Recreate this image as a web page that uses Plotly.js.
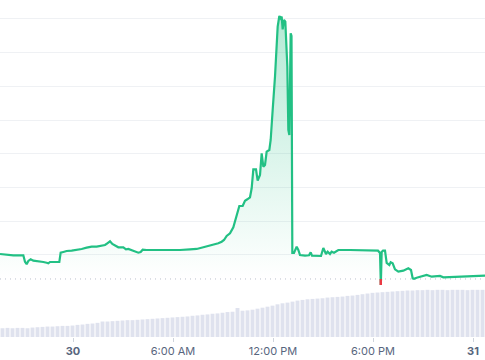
<!DOCTYPE html>
<html>
<head>
<meta charset="utf-8">
<script src="https://cdn.plot.ly/plotly-3.0.1.min.js"></script>
<style>html,body{margin:0;padding:0;background:#fff;}#chart{width:485px;height:360px;}</style>
</head>
<body>
<div id="chart"></div>
<script>
// Hours relative to 30 00:00
const priceHours = [-4.38,-3.98,-3.58,-3.18,-2.98,-2.88,-2.78,-2.68,-2.54,-2.38,-2.18,-1.98,-1.78,-1.58,-1.48,-1.38,-1.18,-0.98,-0.82,-0.74,-0.58,-0.38,-0.08,0.22,0.52,0.82,1.12,1.42,1.72,1.92,2.06,2.22,2.36,2.52,2.72,3.02,3.18,3.32,3.52,3.72,3.92,4.06,4.18,4.42,4.82,5.22,5.82,6.42,7.02,7.42,7.82,8.12,8.42,8.72,8.92,9.06,9.22,9.42,9.62,9.72,9.86,9.98,10.18,10.32,10.46,10.62,10.72,10.82,10.98,11.08,11.22,11.32,11.42,11.52,11.62,11.78,11.86,11.92,11.98,12.12,12.22,12.28,12.38,12.46,12.52,12.58,12.66,12.74,12.86,12.92,12.98,13.06,13.11,13.16,13.26,13.42,13.52,13.62,13.92,14.16,14.26,14.34,14.88,15.02,15.18,15.28,15.42,15.52,15.66,15.92,16.62,17.52,18.12,18.30,18.42,18.47,18.52,18.60,18.72,18.82,18.98,19.06,19.18,19.32,19.52,19.82,20.12,20.28,20.38,20.46,20.62,20.92,21.22,21.52,22.02,22.22,23.02,23.62,24.72];
const priceValues = [1.029,1.008,0.991,0.991,0.991,0.801,0.724,0.822,0.872,0.830,0.822,0.801,0.792,0.771,0.753,0.792,0.783,0.792,0.792,1.068,1.089,1.118,1.127,1.148,1.178,1.216,1.246,1.246,1.275,1.296,1.347,1.406,1.326,1.275,1.228,1.228,1.169,1.178,1.148,1.109,1.068,1.089,1.157,1.148,1.148,1.148,1.139,1.148,1.169,1.178,1.228,1.266,1.296,1.347,1.394,1.444,1.563,1.643,1.821,1.987,2.284,2.453,2.453,2.610,2.652,2.711,2.978,3.541,3.541,3.203,3.372,4.016,3.619,3.669,4.064,4.114,4.411,5.004,5.300,6.288,7.279,7.771,8.089,8.020,8.068,7.694,7.970,7.920,6.585,4.707,4.559,7.575,7.495,1.059,1.059,1.246,1.148,1.000,0.979,0.991,1.080,0.979,0.970,1.207,1.029,1.097,1.029,1.097,1.068,1.148,1.148,1.148,1.148,1.127,1.059,0.110,1.089,1.127,1.127,0.762,0.703,0.783,0.753,0.575,0.504,0.534,0.605,0.555,0.308,0.295,0.326,0.356,0.406,0.356,0.377,0.338,0.356,0.377,0.386];
const referencePrice = 0.288;

const volumeStartHour = -4.23;
const volumeStepHours = 0.3;
const volumeValues = [2.6,2.7,2.6,2.7,2.7,2.6,2.8,2.9,3.0,3.1,3.1,3.2,3.3,3.3,3.4,3.6,3.7,3.9,4.0,4.2,4.6,4.6,4.7,4.8,4.9,5.0,5.0,5.1,5.2,5.3,5.4,5.5,5.6,5.7,5.8,5.9,6.0,6.1,6.3,6.4,6.6,6.7,6.9,7.0,7.2,7.4,7.5,8.6,7.8,7.9,8.1,8.4,8.7,9.0,9.3,9.7,10.0,10.2,10.5,10.8,11.0,11.2,11.3,11.4,11.5,11.7,11.8,11.9,12.0,12.2,12.3,12.5,12.7,12.9,13.1,13.2,13.3,13.4,13.5,13.6,13.7,13.8,13.8,13.9,13.9,14.0,13.9,14.0,14.0,13.9,14.0,14.0,14.0,13.9,14.0,14.0,14.0];

const tickHours = [0, 6, 12, 18, 24];
const tickLabels = ['<b>30</b>', '6:00 AM', '12:00 PM', '6:00 PM', '<b>31</b>'];
const gridValues = [1,2,3,4,5,6,7,8];

const volumeHours = volumeValues.map((_, i) => volumeStartHour + i * volumeStepHours);

// Red segments where the price is below the reference price
const redX = [], redY = [];
for (let i = 0; i < priceValues.length - 1; i++) {
  const x0 = priceHours[i], y0 = priceValues[i], x1 = priceHours[i+1], y1 = priceValues[i+1];
  const b0 = y0 < referencePrice, b1 = y1 < referencePrice;
  if (!b0 && !b1) continue;
  let sx = x0, sy = y0, ex = x1, ey = y1;
  if (!b0) { const t = (referencePrice - y0) / (y1 - y0); sx = x0 + t*(x1-x0); sy = referencePrice; }
  if (!b1) { const t = (referencePrice - y0) / (y1 - y0); ex = x0 + t*(x1-x0); ey = referencePrice; }
  redX.push(sx, ex, null); redY.push(sy, ey, null);
}

const green = '#22c084';
const traces = [
  {x: volumeHours, y: volumeValues, type: 'bar', yaxis: 'y2', marker: {color: '#dfe2ee', line: {width: 0}}, hoverinfo: 'skip'},
  {x: [priceHours[0], priceHours[priceHours.length-1]], y: [referencePrice, referencePrice], mode: 'lines', line: {color: '#b9c0cc', width: 1, dash: '1px,4px'}, hoverinfo: 'skip'},
  {x: priceHours, y: priceValues, mode: 'lines', line: {color: green, width: 2.2}, fill: 'tonexty',
   fillgradient: {type: 'vertical', start: referencePrice, stop: 8.1, colorscale: [[0, 'rgba(34,192,132,0)'], [1, 'rgba(34,192,132,0.34)']]}, hoverinfo: 'skip'},
  {x: redX, y: redY, mode: 'lines', line: {color: '#ea3943', width: 2.2}, connectgaps: false, hoverinfo: 'skip'}
];

const layout = {
  width: 485, height: 360,
  margin: {l: 0, r: 0, t: 0, b: 23, pad: 0},
  paper_bgcolor: '#fff', plot_bgcolor: '#fff',
  showlegend: false,
  bargap: 0.22,
  xaxis: {range: [-4.38, 24.72], showgrid: false, zeroline: false, showline: false,
          tickvals: tickHours, ticktext: tickLabels, ticks: 'outside', ticklen: 4, tickwidth: 1, tickcolor: '#cfd4dc',
          tickfont: {family: 'Inter, sans-serif', size: 11, color: '#58667e'}},
  yaxis: {range: [-1.433, 8.563], tickvals: gridValues, showticklabels: false, showgrid: true, gridcolor: '#eff1f4', gridwidth: 1, zeroline: false, showline: false, ticks: ''},
  yaxis2: {range: [0, 100], overlaying: 'y', showgrid: false, showticklabels: false, zeroline: false, showline: false}
};

Plotly.newPlot('chart', traces, layout, {staticPlot: true, displayModeBar: false});
</script>
</body>
</html>
